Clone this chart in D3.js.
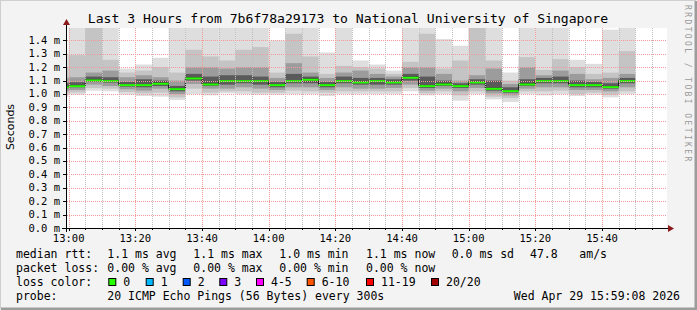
<!DOCTYPE html>
<html>
<head>
<meta charset="utf-8">
<script src="https://cdn.jsdelivr.net/npm/d3@7"></script>
<style>
  body { margin: 0; background: #f3f3f3; }
  svg text { font-family: "DejaVu Sans Mono", monospace; fill: #000; }
</style>
</head>
<body>
<div id="chart"></div>
<script>
// ---- data: one 5 minute step per entry, starting 12:55 ----
// percentiles of the 20 pings (ms) per step
const pMax = [1.30, 1.60, 1.60, 1.60, 1.19, 1.22, 1.27, 1.60, 1.60, 1.60, 1.60, 1.60, 1.60, 1.40, 1.60, 1.60, 1.31, 1.60,
              1.25, 1.22, 1.175, 1.60, 1.60, 1.41, 1.36, 1.60, 1.60, 1.16, 1.60, 1.60, 1.60, 1.255, 1.225, 1.48, 1.60];
const p90  = [1.20, 1.29, 1.50, 1.255, 1.16, 1.175, 1.20, 1.16, 1.33, 1.28, 1.25, 1.33, 1.35, 1.16, 1.45, 1.28, 1.15, 1.21,
              1.20, 1.19, 1.15, 1.24, 1.45, 1.19, 1.25, 1.50, 1.25, 1.10, 1.275, 1.18, 1.26, 1.20, 1.15, 1.16, 1.32];
const p75  = [1.12, 1.125, 1.16, 1.175, 1.125, 1.14, 1.125, 1.10, 1.20, 1.20, 1.19, 1.20, 1.20, 1.12, 1.23, 1.16, 1.12, 1.16,
              1.175, 1.15, 1.13, 1.20, 1.20, 1.15, 1.10, 1.14, 1.19, 1.075, 1.20, 1.14, 1.175, 1.15, 1.11, 1.12, 1.15];
const p60  = [1.08, 1.088, 1.13, 1.125, 1.09, 1.11, 1.10, 1.06, 1.15, 1.13, 1.14, 1.14, 1.13, 1.09, 1.15, 1.13, 1.09, 1.13,
              1.12, 1.12, 1.11, 1.15, 1.13, 1.10, 1.08, 1.11, 1.10, 1.05, 1.11, 1.12, 1.13, 1.10, 1.09, 1.08, 1.12];
const median = [1.055, 1.062, 1.105, 1.10, 1.07, 1.07, 1.08, 1.04, 1.12, 1.075, 1.10, 1.10, 1.10, 1.07, 1.10, 1.11, 1.07, 1.10,
                1.09, 1.10, 1.09, 1.125, 1.0625, 1.075, 1.0625, 1.09, 1.0425, 1.025, 1.075, 1.10, 1.10, 1.07, 1.07, 1.055, 1.10];
const p40  = [1.04, 1.05, 1.09, 1.085, 1.055, 1.05, 1.06, 1.02, 1.10, 1.06, 1.07, 1.08, 1.07, 1.05, 1.08, 1.08, 1.05, 1.08,
              1.07, 1.07, 1.07, 1.10, 1.045, 1.06, 1.045, 1.07, 1.025, 1.01, 1.06, 1.08, 1.08, 1.05, 1.05, 1.04, 1.08];
const p25  = [1.02, 1.03, 1.07, 1.06, 1.035, 1.025, 1.04, 1.00, 1.075, 1.04, 1.04, 1.05, 1.04, 1.03, 1.05, 1.05, 1.03, 1.05,
              1.04, 1.04, 1.045, 1.07, 1.025, 1.04, 1.02, 1.045, 1.005, 0.99, 1.04, 1.05, 1.05, 1.03, 1.03, 1.02, 1.05];
const p10  = [1.00, 1.012, 1.045, 1.04, 1.015, 1.005, 1.01, 0.975, 1.04, 1.01, 1.02, 1.02, 1.01, 1.01, 1.025, 1.02, 1.01, 1.02,
              1.02, 1.02, 1.02, 1.045, 1.005, 1.02, 0.99, 1.02, 0.98, 0.97, 1.02, 1.02, 1.025, 1.00, 1.01, 0.995, 1.02];
const pMin = [0.98, 0.995, 1.025, 1.02, 0.995, 0.985, 0.98, 0.955, 1.00, 0.99, 1.005, 1.00, 0.995, 0.995, 1.00, 1.00, 0.985, 1.00,
              1.00, 1.00, 1.00, 1.02, 0.99, 1.00, 0.95, 1.00, 0.96, 0.94, 1.00, 0.99, 1.00, 0.985, 0.995, 0.975, 1.00];

const yTicks = [0.0, 0.1, 0.2, 0.3, 0.4, 0.5, 0.6, 0.7, 0.8, 0.9, 1.0, 1.1, 1.2, 1.3, 1.4];
const rttStats = [1.1, 1.1, 1.0, 1.1, 0.0];
const rttNames = ['avg', 'max', 'min', 'now', 'sd'];
const lossStats = [0, 0, 0, 0];
const lossNames = ['avg', 'max', 'min', 'now'];
const lossLabels = ['0', '1', '2', '3', '4-5', '6-10', '11-19', '20/20'];
const lossColors = ['#26ff00', '#00b8ff', '#0059ff', '#7e00ff', '#ff00ff', '#ff5500', '#ff0000', '#a10000'];
const amPerSec = 47.8;

// ---- layout ----
const W = 697, H = 310;
const plot = {left: 67, top: 28, width: 600, height: 200};
const startTime = new Date(2026, 3, 29, 12, 59, 30);
const endTime = new Date(2026, 3, 29, 15, 59, 30);
const firstStep = new Date(2026, 3, 29, 12, 55);

const svg = d3.select('#chart').append('svg')
    .attr('width', W)
    .attr('height', H);

// background and 3d-ish frame
svg.append('rect').attr('width', W).attr('height', H).attr('fill', '#f3f3f3');
svg.append('path').attr('d', `M0,${H - 1}V0H${W - 1}`).attr('fill', 'none').attr('stroke', '#cfcfcf').attr('stroke-width', 2);
svg.append('path').attr('d', `M1,${H - 1}H${W - 1}V1`).attr('fill', 'none').attr('stroke', '#9c9c9c').attr('stroke-width', 3);

const x = d3.scaleTime().domain([startTime, endTime]).range([plot.left, plot.left + plot.width]);
const y = d3.scaleLinear().domain([0, 1.4925]).range([plot.top + plot.height, plot.top]);

svg.append('rect')
    .attr('x', plot.left).attr('y', plot.top)
    .attr('width', plot.width).attr('height', plot.height)
    .attr('fill', '#fff');

svg.append('clipPath').attr('id', 'plot-clip')
  .append('rect')
    .attr('x', plot.left).attr('y', plot.top)
    .attr('width', plot.width).attr('height', plot.height);

const chart = svg.append('g').attr('clip-path', 'url(#plot-clip)');

const steps = median.map((m, i) => {
  const t0 = d3.timeMinute.offset(firstStep, 5 * i);
  return {
    t0: t0, t1: d3.timeMinute.offset(t0, 5), med: m,
    bands: [[pMin[i], pMax[i]], [p10[i], p90[i]], [p25[i], p75[i]], [p40[i], p60[i]]]
  };
});

// smoke: outer ping spread lightest, inner darkest
const smokeColors = ['#dedede', '#c4c4c4', '#9c9c9c', '#5a5a5a'];
smokeColors.forEach((c, b) => {
  chart.selectAll(`.smoke-${b}`)
      .data(steps)
    .join('rect')
      .attr('class', `smoke-${b}`)
      .attr('x', d => x(d.t0))
      .attr('width', d => x(d.t1) - x(d.t0))
      .attr('y', d => y(d.bands[b][1]))
      .attr('height', d => y(d.bands[b][0]) - y(d.bands[b][1]))
      .attr('fill', c);
});

// grid
const grid = svg.append('g').attr('shape-rendering', 'crispEdges');
const minorTimes = d3.timeMinute.every(5).range(startTime, endTime);
const majorTimes = d3.timeMinute.every(20).range(startTime, endTime);

grid.selectAll('.minor-x')
    .data(minorTimes.filter(t => t.getMinutes() % 20 !== 0))
  .join('line')
    .attr('x1', d => Math.round(x(d)) + 0.5).attr('x2', d => Math.round(x(d)) + 0.5)
    .attr('y1', plot.top).attr('y2', plot.top + plot.height)
    .attr('stroke', '#bdbdbd').attr('stroke-dasharray', '1,1');

grid.selectAll('.major-x')
    .data(majorTimes)
  .join('line')
    .attr('x1', d => Math.round(x(d)) + 0.5).attr('x2', d => Math.round(x(d)) + 0.5)
    .attr('y1', plot.top).attr('y2', plot.top + plot.height)
    .attr('stroke', '#f19a9a').attr('stroke-dasharray', '1,1');

grid.selectAll('.major-y')
    .data(yTicks.slice(1))
  .join('line')
    .attr('x1', plot.left).attr('x2', plot.left + plot.width)
    .attr('y1', d => Math.round(y(d)) + 0.5).attr('y2', d => Math.round(y(d)) + 0.5)
    .attr('stroke', '#f19a9a').attr('stroke-dasharray', '1,1');

// median line: dark steps with the loss colour on top
const medLine = d3.line()
    .x(d => x(d[0]))
    .y(d => y(d[1]))
    .curve(d3.curveStepAfter);
const medPts = steps.map(d => [d.t0, d.med]).concat([[steps[steps.length - 1].t1, steps[steps.length - 1].med]]);
chart.append('path')
    .attr('d', medLine(medPts))
    .attr('fill', 'none')
    .attr('stroke', '#111')
    .attr('stroke-width', 1);
chart.selectAll('.median')
    .data(steps)
  .join('line')
    .attr('class', 'median')
    .attr('x1', d => x(d.t0)).attr('x2', d => x(d.t1))
    .attr('y1', d => y(d.med) + 0.5).attr('y2', d => y(d.med) + 0.5)
    .attr('stroke', lossColors[0])
    .attr('stroke-width', 2);

// axes
const axisCol = '#000';
svg.append('line')
    .attr('x1', plot.left - 5).attr('x2', plot.left + plot.width + 2)
    .attr('y1', plot.top + plot.height + 0.5).attr('y2', plot.top + plot.height + 0.5)
    .attr('stroke', axisCol);
svg.append('line')
    .attr('x1', plot.left - 0.5).attr('x2', plot.left - 0.5)
    .attr('y1', plot.top + plot.height + 4).attr('y2', plot.top - 4)
    .attr('stroke', axisCol);
svg.append('path')
    .attr('d', `M${plot.left + plot.width + 1},${plot.top + plot.height - 3}l6,3.5l-6,3.5z`)
    .attr('fill', '#8b1a1a');
svg.append('path')
    .attr('d', `M${plot.left - 4},${plot.top - 3}l3.5,-6l3.5,6z`)
    .attr('fill', '#8b1a1a');

svg.selectAll('.ytick')
    .data(yTicks)
  .join('line')
    .attr('x1', plot.left - 4).attr('x2', plot.left)
    .attr('y1', d => Math.round(y(d)) + 0.5).attr('y2', d => Math.round(y(d)) + 0.5)
    .attr('stroke', axisCol);

svg.selectAll('.xtick')
    .data(minorTimes)
  .join('line')
    .attr('x1', d => Math.round(x(d)) + 0.5).attr('x2', d => Math.round(x(d)) + 0.5)
    .attr('y1', plot.top + plot.height + 1).attr('y2', d => plot.top + plot.height + (d.getMinutes() % 20 === 0 ? 3 : 2))
    .attr('stroke', axisCol);

svg.selectAll('.ylabel')
    .data(yTicks)
  .join('text')
    .attr('x', 60)
    .attr('y', d => y(d) + 3.5)
    .attr('text-anchor', 'end')
    .style('font-size', '10.5px')
    .text(d => d3.format('.1f')(d) + ' m');

svg.selectAll('.xlabel')
    .data(majorTimes)
  .join('text')
    .attr('x', d => x(d))
    .attr('y', 242)
    .attr('text-anchor', 'middle')
    .style('font-size', '10.5px')
    .text(d3.timeFormat('%H:%M'));

// titles
svg.append('text')
    .attr('x', 348).attr('y', 23)
    .attr('text-anchor', 'middle')
    .style('font-size', '13.1px')
    .text('Last 3 Hours from 7b6f78a29173 to National University of Singapore');

svg.append('text')
    .attr('transform', 'translate(14,127) rotate(-90)')
    .attr('text-anchor', 'middle')
    .style('font-family', '"DejaVu Sans", sans-serif')
    .style('font-size', '11px')
    .text('Seconds');

svg.append('text')
    .attr('transform', 'translate(685,5) rotate(90)')
    .style('font-size', '8px')
    .style('letter-spacing', '2.4px')
    .style('fill', '#9a9a9a')
    .text('RRDTOOL / TOBI OETIKER');

// legend
const legend = svg.append('g').style('font-size', '11.5px');
const colX = [107.3, 193.3, 279.3, 366, 451.7];
const rowY = [258, 272, 286, 299.5];

legend.append('text').attr('x', 16).attr('y', rowY[0]).text('median rtt:');
rttStats.forEach((v, i) => {
  legend.append('text').attr('x', colX[i]).attr('y', rowY[0])
      .text(`${v.toFixed(1)} ms ${rttNames[i]}`);
});
legend.append('text').attr('x', 530).attr('y', rowY[0]).text(amPerSec.toFixed(1));
legend.append('text').attr('x', 579.3).attr('y', rowY[0]).text('am/s');

legend.append('text').attr('x', 16).attr('y', rowY[1]).text('packet loss:');
lossStats.forEach((v, i) => {
  legend.append('text').attr('x', colX[i]).attr('y', rowY[1])
      .text(`${v.toFixed(2)} % ${lossNames[i]}`);
});

legend.append('text').attr('x', 16).attr('y', rowY[2]).text('loss color:');
const swatchX = [108.3, 145.7, 182.7, 219.3, 256, 306.7, 366, 431];
lossLabels.forEach((l, i) => {
  legend.append('rect')
      .attr('x', swatchX[i] + 0.5).attr('y', rowY[2] - 7.5)
      .attr('width', 7).attr('height', 7)
      .attr('fill', lossColors[i])
      .attr('stroke', '#000');
  legend.append('text').attr('x', swatchX[i] + 15).attr('y', rowY[2]).text(l);
});

legend.append('text').attr('x', 16).attr('y', rowY[3]).text('probe:');
legend.append('text').attr('x', 107.3).attr('y', rowY[3]).text('20 ICMP Echo Pings (56 Bytes) every 300s');
legend.append('text').attr('x', 680).attr('y', rowY[3]).attr('text-anchor', 'end').text('Wed Apr 29 15:59:08 2026');
</script>
</body>
</html>
